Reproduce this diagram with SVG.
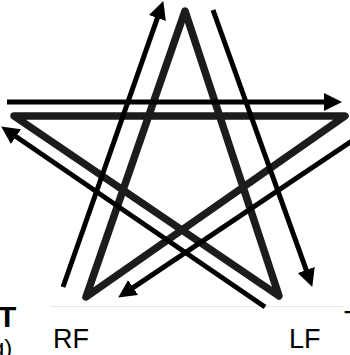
<svg xmlns="http://www.w3.org/2000/svg" width="350" height="355" viewBox="0 0 350 355">
  <style>
    .star { fill: none; stroke: #1c1c1c; stroke-width: 7.5; stroke-linejoin: round; stroke-linecap: round; }
    .arr { fill: none; stroke: #000; stroke-width: 5; stroke-linecap: butt; }
    .lbl { font-family: "Liberation Sans", Arial, sans-serif; fill: #000; }
  </style>
  <defs>
    <marker id="ah" markerUnits="userSpaceOnUse" markerWidth="18" markerHeight="18" viewBox="0 0 18 18" refX="5" refY="9" orient="auto">
      <path d="M0,0 L18,9 L0,18 z" fill="#000"/>
    </marker>
    <filter id="soft" x="-5%" y="-5%" width="110%" height="110%">
      <feGaussianBlur stdDeviation="0.7"/>
    </filter>
  </defs>
  <rect width="350" height="355" fill="#fff"/>
  <line x1="50" y1="306.5" x2="344" y2="306.5" stroke="#e8e8e8" stroke-width="1"/>
  <g id="star">
    <path class="star" filter="url(#soft)" d="M185,11 L86,297 L345,116 L14,116 L279,296 Z"/>
  </g>
  <g id="connectors">
    <line class="arr" x1="7" y1="102" x2="329" y2="102" marker-end="url(#ah)"/>
    <line class="arr" x1="63" y1="287" x2="159" y2="13.3" marker-end="url(#ah)"/>
    <line class="arr" x1="213" y1="10" x2="307.9" y2="274.7" marker-end="url(#ah)"/>
    <line class="arr" x1="265" y1="307" x2="11.9" y2="133.8" marker-end="url(#ah)"/>
    <line class="arr" x1="352" y1="141" x2="129" y2="290.3" marker-end="url(#ah)"/>
  </g>
  <g id="label-T"><text class="lbl" x="-2" y="327" font-size="30" font-weight="bold">T</text></g>
  <g id="label-g"><text class="lbl" x="-9" y="356" font-size="24">g)</text></g>
  <g id="label-RF"><text class="lbl" x="53" y="348" font-size="27">RF</text></g>
  <g id="label-LF"><text class="lbl" x="289" y="348" font-size="27">LF</text></g>
  <g id="label-T2"><text class="lbl" x="344" y="330" font-size="28">T</text></g>
</svg>
